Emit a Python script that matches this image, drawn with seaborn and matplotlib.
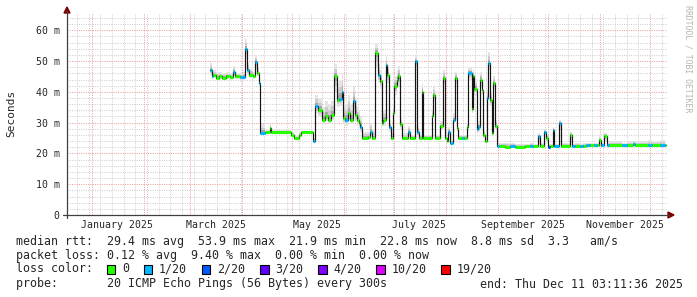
import numpy as np
import pandas as pd
import matplotlib
matplotlib.use("Agg")
import matplotlib.pyplot as plt
import matplotlib.dates as mdates
import matplotlib.transforms as mtransforms
from matplotlib.patches import Rectangle, Polygon
from matplotlib.lines import Line2D
import seaborn as sns

# ---------------- data ----------------
day_of_2025 = [
    70.7, 71.6, 72.5, 74.3, 76.1, 77.9, 80.3, 82.7, 84.5, 85.4,
    86.9, 88.6, 90.4, 91.6, 93.1, 94.3, 96.4, 97.9, 99.1, 100.0,
    100.9, 103.9, 106.3, 106.9, 119.2, 121.0, 124.0, 125.1, 132.3, 133.5,
    135.5, 137.5, 139.5, 141.5, 143.1, 144.6, 146.5, 148.1, 149.5, 150.5,
    151.5, 153.4, 154.5, 156.4, 157.5, 158.7, 159.6, 160.4, 161.5, 165.2,
    166.4, 167.4, 169.4, 171.4, 172.4, 173.4, 174.4, 176.0, 176.8, 178.0,
    178.8, 180.0, 181.0, 182.4, 183.4, 184.4, 185.4, 189.2, 190.4, 193.4,
    194.6, 195.8, 197.4, 198.3, 203.3, 204.3, 205.3, 208.3, 210.3, 211.3,
    212.3, 213.3, 214.3, 216.3, 217.3, 218.3, 219.3, 221.3, 222.9, 224.3,
    225.2, 227.3, 228.2, 228.8, 230.3, 231.2, 232.2, 233.3, 234.2, 235.2,
    236.3, 237.2, 238.2, 239.3, 240.2, 241.2, 242.2, 243.6, 247.2, 250.2,
    253.2, 259.2, 262.2, 264.0, 267.2, 268.2, 270.8, 272.0, 273.2, 274.1,
    275.7, 276.8, 279.8, 281.0, 285.8, 287.0, 289.1, 292.1, 293.9, 295.7,
    298.1, 300.5, 302.3, 303.6, 304.9, 306.4, 308.2, 309.4, 317.2, 320.2,
    323.8, 324.8, 332.7, 335.1, 339.9, 342.9, 343.8,
]
median_ms = [
    47.0, 45.0, 45.5, 44.6, 45.0, 44.6, 45.0, 44.8, 46.6, 45.0,
    45.0, 44.8, 44.8, 54.0, 47.2, 45.5, 45.0, 49.7, 46.0, 42.8,
    26.6, 26.8, 28.2, 26.8, 26.0, 25.0, 26.0, 26.8, 23.9, 35.3,
    34.2, 30.9, 32.0, 31.0, 32.6, 45.0, 37.4, 37.6, 40.0, 31.5,
    31.0, 33.0, 31.0, 36.9, 32.5, 31.0, 30.0, 28.5, 25.0, 25.2,
    27.0, 25.0, 52.6, 45.5, 43.5, 29.9, 30.9, 48.6, 45.5, 28.5,
    25.0, 33.0, 41.8, 43.9, 45.0, 29.5, 25.0, 27.0, 25.0, 49.9,
    27.0, 25.0, 40.1, 25.0, 32.0, 39.0, 25.0, 28.9, 44.5, 25.0,
    23.9, 27.0, 23.3, 31.0, 44.5, 28.3, 25.0, 25.0, 25.0, 28.5,
    46.1, 34.5, 45.0, 41.0, 28.0, 28.5, 44.0, 40.7, 26.0, 24.0,
    38.0, 49.3, 37.5, 26.5, 42.8, 29.0, 22.3, 22.3, 22.0, 22.3,
    22.0, 22.3, 22.3, 22.3, 25.5, 22.3, 27.1, 25.0, 22.0, 22.3,
    27.6, 22.3, 29.9, 22.3, 26.0, 22.3, 22.3, 22.3, 22.3, 22.6,
    22.6, 22.6, 22.6, 24.5, 22.6, 25.8, 22.6, 22.6, 22.6, 22.6,
    23.0, 22.6, 22.6, 22.6, 22.6, 22.6, 22.8,
]
smoke_hi_ms = [
    49.5, 47.5, 47.0, 46.5, 46.5, 46.0, 46.5, 46.0, 48.5, 46.5,
    46.0, 46.0, 46.5, 57.0, 49.5, 47.5, 46.5, 52.0, 48.0, 45.0,
    29.5, 27.5, 29.5, 27.5, 27.0, 25.8, 26.8, 27.3, 25.0, 39.0,
    38.0, 35.0, 37.0, 36.0, 37.0, 49.0, 43.0, 44.0, 46.0, 37.0,
    36.0, 39.0, 36.0, 42.0, 38.0, 35.0, 34.0, 32.0, 27.0, 27.0,
    30.0, 27.5, 55.5, 49.0, 47.0, 33.0, 34.0, 51.5, 48.5, 31.0,
    27.0, 36.0, 45.0, 47.0, 48.5, 32.0, 26.5, 29.0, 26.0, 51.5,
    29.0, 26.0, 42.5, 26.0, 34.0, 41.5, 26.0, 30.5, 47.0, 26.5,
    25.0, 28.5, 24.5, 33.0, 46.5, 30.0, 26.0, 26.0, 26.0, 30.0,
    48.0, 37.0, 47.5, 43.5, 30.0, 30.5, 46.5, 43.0, 27.5, 25.0,
    40.5, 53.0, 40.0, 28.0, 45.0, 31.0, 23.0, 23.5, 23.5, 23.5,
    23.0, 23.0, 23.5, 23.0, 26.5, 23.5, 28.0, 26.0, 23.0, 23.0,
    28.5, 23.0, 30.8, 23.5, 27.0, 23.0, 23.5, 23.0, 23.5, 23.3,
    23.5, 23.3, 23.5, 25.5, 23.5, 26.5, 23.5, 24.0, 23.5, 24.0,
    24.0, 24.0, 24.5, 24.0, 24.5, 23.5, 23.5,
]
smoke_lo_ms = [
    45.5, 44.0, 44.5, 44.0, 44.0, 44.0, 44.2, 44.0, 45.0, 44.2,
    44.2, 44.0, 44.0, 51.0, 45.5, 44.5, 44.2, 47.5, 45.0, 42.0,
    26.0, 26.2, 27.0, 26.2, 25.5, 24.5, 25.5, 26.3, 23.5, 33.0,
    32.0, 29.5, 30.5, 29.5, 31.0, 40.0, 35.0, 35.5, 37.0, 29.5,
    29.0, 31.0, 29.5, 34.0, 30.5, 29.0, 28.5, 27.0, 24.5, 24.5,
    25.5, 24.5, 48.0, 43.0, 41.0, 28.5, 29.0, 45.0, 43.0, 27.0,
    24.5, 31.0, 39.0, 41.5, 42.0, 28.0, 24.5, 25.5, 24.5, 47.0,
    25.5, 24.5, 38.0, 24.5, 30.5, 37.0, 24.5, 27.5, 42.5, 24.5,
    23.5, 25.5, 23.0, 29.5, 42.5, 27.0, 24.5, 24.5, 24.5, 27.0,
    44.0, 33.0, 43.0, 39.0, 26.5, 27.0, 42.0, 39.0, 25.0, 23.5,
    36.0, 47.0, 35.5, 25.5, 41.0, 27.5, 21.8, 21.8, 21.6, 21.8,
    21.6, 21.8, 21.8, 21.8, 23.0, 21.8, 25.0, 23.5, 21.6, 21.8,
    26.0, 21.8, 28.0, 21.8, 24.5, 21.8, 21.8, 21.8, 21.8, 22.0,
    22.0, 22.0, 22.0, 23.0, 22.0, 24.0, 22.0, 22.0, 22.0, 22.0,
    22.3, 22.0, 22.0, 22.0, 22.0, 22.0, 22.2,
]
loss_of_20 = [
    1, 1, 0, 0, 0, 0, 0, 0, 1, 0,
    0, 1, 1, 1, 1, 0, 0, 1, 0, 1,
    1, 0, 0, 0, 0, 0, 0, 0, 1, 1,
    0, 0, 0, 0, 0, 0, 0, 1, 1, 0,
    1, 0, 0, 1, 0, 0, 0, 1, 0, 0,
    1, 0, 0, 1, 0, 0, 0, 1, 0, 1,
    0, 0, 0, 0, 0, 0, 0, 1, 0, 1,
    1, 0, 0, 0, 0, 0, 0, 0, 0, 0,
    0, 1, 1, 1, 0, 0, 0, 1, 0, 0,
    1, 0, 0, 0, 1, 1, 0, 0, 0, 0,
    1, 1, 0, 0, 0, 0, 1, 0, 0, 1,
    0, 0, 1, 0, 1, 0, 1, 0, 2, 0,
    1, 1, 1, 0, 0, 1, 0, 1, 0, 1,
    0, 1, 0, 0, 1, 0, 1, 0, 1, 0,
    1, 0, 1, 0, 1, 0, 0,
]

loss_levels = [0, 1, 2, 3, 4, 10, 19]
loss_labels = ["0", "1/20", "2/20", "3/20", "4/20", "10/20", "19/20"]
loss_colors = ["#26ff00", "#00b8ff", "#0059ff", "#5e00ff", "#7e00ff", "#dd00ff", "#ff0000"]

month_labels = ["January 2025", "March 2025", "May 2025", "July 2025",
                "September 2025", "November 2025"]
month_label_dates = ["2025-01-16", "2025-03-16", "2025-05-16", "2025-07-16",
                     "2025-09-16", "2025-11-16"]
ytick_values = [0, 10, 20, 30, 40, 50, 60]
ytick_labels = ["0", "10 m", "20 m", "30 m", "40 m", "50 m", "60 m"]

stats_rtt = "median rtt:  29.4 ms avg  53.9 ms max  21.9 ms min  22.8 ms now  8.8 ms sd  3.3   am/s"
stats_loss = "packet loss: 0.12 % avg  9.40 % max  0.00 % min  0.00 % now"
probe_text = "probe:       20 ICMP Echo Pings (56 Bytes) every 300s"
end_text = "end: Thu Dec 11 03:11:36 2025"
x_start = "2024-12-17 03:11:36"
x_end = "2025-12-11 03:11:36"

# ---------------- figure ----------------
sns.set_style("white")
plt.rcParams["font.family"] = ["DejaVu Sans Mono", "DejaVu Sans"]

W, H = 697, 297
L, R, T, B = 67, 667, 13, 215
fig = plt.figure(figsize=(W / 100, H / 100), dpi=100)
fig.patch.set_facecolor("white")
ax = fig.add_axes([L / W, 1 - B / H, (R - L) / W, (B - T) / H])
ax.set_facecolor("white")

base = mdates.date2num(pd.Timestamp("2025-01-01"))
x = base + np.array(day_of_2025)
med = np.array(median_ms)
hi = np.array(smoke_hi_ms)
lo = np.array(smoke_lo_ms)
loss = np.array(loss_of_20)

# smoke layers
for frac, col in [(1.0, "#e4e4e4"), (0.6, "#cccccc"), (0.3, "#a8a8a8")]:
    ax.fill_between(x, med - (med - lo) * frac, med + (hi - med) * frac,
                    step="post", color=col, lw=0, zorder=2)

df = pd.DataFrame({"x": x, "median": med})
sns.lineplot(data=df, x="x", y="median", drawstyle="steps-post", color="#151515",
             lw=0.85, estimator=None, sort=False, ax=ax, zorder=4)

cmap = dict(zip(loss_levels, loss_colors))
for lvl in loss_levels:
    idx = [i for i in range(len(x) - 1) if loss[i] == lvl]
    if idx:
        ax.hlines(med[idx], x[idx], x[[i + 1 for i in idx]], color=cmap[lvl],
                  lw=2.2, zorder=5)

# axes limits / grid
ax.set_xlim(mdates.date2num(pd.Timestamp(x_start)), mdates.date2num(pd.Timestamp(x_end)))
ax.set_ylim(0, 65.6)
ax.set_xlabel("")
ax.set_ylabel("")

ax.xaxis.set_major_locator(mdates.MonthLocator())
ax.xaxis.set_minor_locator(mdates.WeekdayLocator(byweekday=mdates.MO))
ax.xaxis.set_major_formatter(plt.NullFormatter())
ax.set_yticks(ytick_values)
ax.set_yticklabels(ytick_labels)
ax.yaxis.set_minor_locator(matplotlib.ticker.MultipleLocator(2))

dot = (0, (1, 1.3))
ax.grid(which="minor", color="#cfcfcf", ls=dot, lw=0.72, zorder=1)
ax.grid(which="major", color="#ec9c9c", ls=dot, lw=0.72, zorder=1)
ax.set_axisbelow(True)

axis_col = "#404040"
for s in ["top", "right", "left", "bottom"]:
    ax.spines[s].set_visible(False)

ax.tick_params(axis="y", which="major", length=2.2, width=0.72, color=axis_col,
               pad=3.2, labelsize=7.1, direction="out")
ax.tick_params(axis="y", which="minor", length=0)
ax.tick_params(axis="x", which="major", length=2.2, width=0.72, color=axis_col,
               direction="out")
ax.tick_params(axis="x", which="minor", length=1.4, width=0.72, color=axis_col,
               direction="out")

trans = mtransforms.blended_transform_factory(ax.transData, ax.transAxes)
for lab, d in zip(month_labels, month_label_dates):
    ax.text(mdates.date2num(pd.Timestamp(d)), -(225 - B) / (B - T), lab,
            transform=trans, ha="center", va="center", fontsize=7.1)

def fx(px):
    return px / W

def fy(py):
    return 1 - py / H

# axis lines with arrows
fig.add_artist(Line2D([fx(63), fx(669)], [fy(215), fy(215)], color=axis_col, lw=0.9))
fig.add_artist(Line2D([fx(67), fx(67)], [fy(218), fy(11)], color=axis_col, lw=0.9))
fig.add_artist(Polygon([[fx(668), fy(212)], [fx(674), fy(215)], [fx(668), fy(218)]],
                       closed=True, color="#7f0000", transform=fig.transFigure))
fig.add_artist(Polygon([[fx(64), fy(13)], [fx(67), fy(7)], [fx(70), fy(13)]],
                       closed=True, color="#7f0000", transform=fig.transFigure))

# y label and watermark
fig.text(fx(11), fy(113), "Seconds", rotation=90, ha="center", va="center", fontsize=8)
fig.text(fx(688), fy(5), "RRDTOOL / TOBI OETIKER", rotation=270, ha="center", va="top",
         fontsize=5.9, color="#b4b4b4")

# legend / stats
fs = 8.4
cw = 0.602 * fs * 100 / 72
fig.text(fx(16.5), fy(241), stats_rtt, ha="left", va="center", fontsize=fs)
fig.text(fx(16.5), fy(255), stats_loss, ha="left", va="center", fontsize=fs)
fig.text(fx(16.5), fy(269), "loss color:", ha="left", va="center", fontsize=fs)
fig.text(fx(16.5), fy(284), probe_text, ha="left", va="center", fontsize=fs)
fig.text(fx(683), fy(284), end_text, ha="right", va="center", fontsize=fs)

lab_x = 16.5 + 15 * cw
for lab, col in zip(loss_labels, loss_colors):
    sq = lab_x - 15
    fig.add_artist(Rectangle((fx(sq), fy(273.5)), 8.5 / W, 9 / H, transform=fig.transFigure,
                             facecolor=col, edgecolor="black", lw=0.8))
    fig.text(fx(lab_x), fy(269), lab, ha="left", va="center", fontsize=fs)
    lab_x = lab_x + len(lab) * cw + 30

fig.savefig("out.png", dpi=100, facecolor="white")
